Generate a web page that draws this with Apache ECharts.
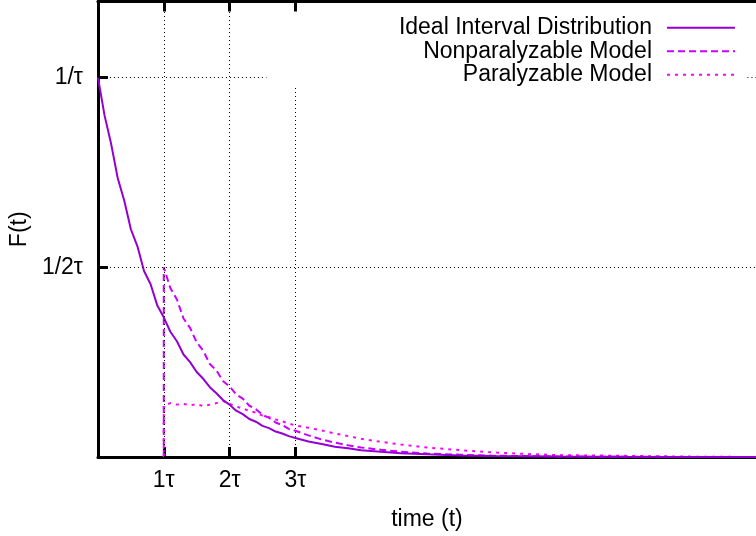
<!DOCTYPE html>
<html>
<head>
<meta charset="utf-8">
<script src="https://cdn.jsdelivr.net/npm/echarts@6/dist/echarts.min.js"></script>
<style>html,body{margin:0;padding:0;background:#fff}#c{width:756px;height:536px}</style>
</head>
<body>
<div id="c"></div>
<script>
// Tick positions and labels
const ticksX = [1, 2, 3];
const tickLabelsX = ['1τ', '2τ', '3τ'];
const ticksY = [0.5, 1];
const tickLabelsY = ['1/2τ', '1/τ'];

// Series names
const seriesNames = ['Ideal Interval Distribution', 'Nonparalyzable Model', 'Paralyzable Model'];

// Ideal interval distribution (time in τ, F in 1/τ)
const tIdeal = [0.0,0.1,0.2,0.3,0.4,0.5,0.6,0.7,0.8,0.9,1.0,1.1,1.2,1.3,1.4,1.5,1.6,1.7,1.8,1.9,2.0,2.1,2.2,2.3,2.4,2.5,2.6,2.7,2.8,2.9,3.0,3.2,3.4,3.6,3.8,4.0,4.3,4.6,5.0,5.5,6.0,7.0,8.0,9.0,10.0];
const fIdeal = [1.00,0.90,0.825,0.735,0.675,0.60,0.555,0.49,0.455,0.40,0.368,0.330,0.305,0.270,0.250,0.224,0.206,0.184,0.168,0.150,0.138,0.122,0.113,0.100,0.093,0.082,0.076,0.067,0.062,0.055,0.050,0.041,0.034,0.027,0.023,0.018,0.014,0.010,0.007,0.004,0.0025,0.001,0.0004,0.0001,0.0];

// Nonparalyzable model
const tNonpara = [1.0,1.0,1.1,1.2,1.3,1.4,1.5,1.6,1.7,1.8,1.9,2.0,2.1,2.2,2.3,2.4,2.5,2.6,2.7,2.8,2.9,3.0,3.2,3.4,3.6,3.8,4.0,4.3,4.6,5.0,5.5,6.0,7.0,8.0,9.0,10.0];
const fNonpara = [0.0,0.50,0.445,0.415,0.365,0.340,0.302,0.280,0.245,0.228,0.200,0.186,0.165,0.154,0.135,0.126,0.111,0.103,0.091,0.084,0.074,0.069,0.057,0.046,0.038,0.031,0.025,0.019,0.014,0.009,0.006,0.0035,0.0013,0.0005,0.0002,0.0];

// Paralyzable model
const tPara = [1.0,1.0,1.1,1.2,1.3,1.4,1.5,1.6,1.7,1.8,1.9,2.0,2.1,2.2,2.3,2.4,2.5,2.6,2.7,2.8,2.9,3.0,3.2,3.4,3.6,3.8,4.0,4.3,4.6,5.0,5.5,6.0,6.5,7.0,8.0,9.0,10.0];
const fPara = [0.0,0.135,0.142,0.138,0.140,0.136,0.139,0.134,0.138,0.142,0.148,0.140,0.133,0.128,0.121,0.117,0.109,0.105,0.099,0.094,0.088,0.083,0.077,0.070,0.062,0.055,0.048,0.040,0.033,0.025,0.018,0.012,0.008,0.005,0.003,0.001,0.0];

const zip = (a, b) => a.map((v, i) => [v, b[i]]);
const FONT = 'Liberation Sans';
const X_MAX = 10, Y_MAX = 1.2;

const chart = echarts.init(document.getElementById('c'), null, {renderer: 'canvas'});

// The key box hides the gridlines behind it (like gnuplot's opaque key)
const gridStyle = {color: '#000', width: 1, type: [1, 3]};
const gridLines = [
  {xAxis: ticksX[0]}, {xAxis: ticksX[1]},
  {yAxis: ticksY[0]}
];
const gridSegments = [
  [{coord: [0, ticksY[1]]}, {coord: [2.56, ticksY[1]]}],
  [{coord: [9.87, ticksY[1]]}, {coord: [X_MAX, ticksY[1]]}],
  [{coord: [ticksX[2], 0]}, {coord: [ticksX[2], 0.98]}]
];

chart.setOption({
  animation: false,
  backgroundColor: '#fff',
  textStyle: {fontFamily: FONT},
  grid: {left: 97.5, right: -4, top: 1.5, bottom: 78.5, containLabel: false},
  legend: {
    z: 10,
    orient: 'vertical',
    align: 'right',
    right: 20,
    top: 16,
    padding: 0,
    itemGap: 0,
    itemWidth: 68,
    itemHeight: 10,
    data: seriesNames,
    itemStyle: {opacity: 0},
    lineStyle: {opacity: 1},
    textStyle: {fontFamily: FONT, fontSize: 23, color: '#000', lineHeight: 23.5, padding: [0, 10, 0, 0]}
  },
  xAxis: [{
    type: 'value', min: 0, max: X_MAX, position: 'bottom',
    axisLine: {show: true, onZero: false, lineStyle: {color: '#000', width: 3}},
    axisTick: {show: true, inside: true, length: 10, customValues: ticksX, lineStyle: {color: '#000', width: 3}},
    axisLabel: {customValues: ticksX, formatter: v => tickLabelsX[ticksX.indexOf(v)] || '', fontSize: 23, color: '#000', fontFamily: FONT, margin: 12},
    splitLine: {show: false},
    name: 'time (t)', nameLocation: 'middle', nameGap: 51,
    nameTextStyle: {fontSize: 23, color: '#000', fontFamily: FONT}
  }, {
    type: 'value', min: 0, max: X_MAX, position: 'top',
    axisLine: {show: true, onZero: false, lineStyle: {color: '#000', width: 3}},
    axisTick: {show: true, inside: true, length: 10, customValues: ticksX, lineStyle: {color: '#000', width: 3}},
    axisLabel: {show: false},
    splitLine: {show: false}
  }],
  yAxis: [{
    type: 'value', min: 0, max: Y_MAX,
    axisLine: {show: true, onZero: false, lineStyle: {color: '#000', width: 3}},
    axisTick: {show: true, inside: true, length: 10, customValues: ticksY, lineStyle: {color: '#000', width: 3}},
    axisLabel: {customValues: ticksY, formatter: v => tickLabelsY[ticksY.indexOf(v)] || '', fontSize: 23, color: '#000', fontFamily: FONT, margin: 15},
    splitLine: {show: false},
    name: 'F(t)', nameLocation: 'middle', nameGap: 62, nameRotate: 90,
    nameTextStyle: {fontSize: 23, color: '#000', fontFamily: FONT}
  }],
  series: [{
    name: 'grid', type: 'line', data: [], z: 1, silent: true,
    markLine: {
      silent: true, symbol: ['none', 'none'], label: {show: false},
      lineStyle: gridStyle,
      emphasis: {disabled: true},
      data: gridLines.concat(gridSegments)
    }
  }, {
    name: seriesNames[0], type: 'line', data: zip(tIdeal, fIdeal), showSymbol: false, symbol: 'none', z: 4,
    color: '#9400d3', lineStyle: {color: '#9400d3', width: 2}
  }, {
    name: seriesNames[1], type: 'line', data: zip(tNonpara, fNonpara), showSymbol: false, symbol: 'none', z: 3,
    color: '#cc00ff', lineStyle: {color: '#cc00ff', width: 2, type: [7, 4]}
  }, {
    name: seriesNames[2], type: 'line', data: zip(tPara, fPara), showSymbol: false, symbol: 'none', z: 3,
    color: '#ff00ff', lineStyle: {color: '#ff00ff', width: 2, type: [3, 5]}
  }]
});
</script>
</body>
</html>
